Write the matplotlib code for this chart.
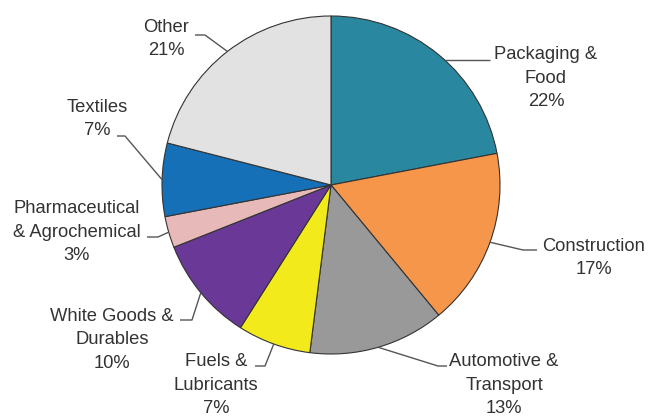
import numpy as np
import matplotlib.pyplot as plt

plt.rcParams['font.family'] = ['Liberation Sans', 'DejaVu Sans']

# data
labels = ["Packaging &\nFood", "Construction", "Automotive &\nTransport",
          "Fuels &\nLubricants", "White Goods &\nDurables",
          "Pharmaceutical\n& Agrochemical", "Textiles", "Other"]
shares = [22, 17, 13, 7, 10, 3, 7, 21]
colors = ["#2a87a0", "#f5964a", "#999999", "#f3ea1c",
          "#6a3896", "#e8b9b9", "#1670b8", "#e2e2e2"]

W, H = 649, 417
cx, cy, R = 331, H - 185, 169

# label layout (pixel coords, y down): text centre, elbow, end of leader
text_pos = [(546, 78), (594, 258), (504, 385), (216, 385),
            (112, 340), (77, 232), (97, 119), (166, 39)]
elbows = [None, (523, 250), (438, 366), (265, 366),
          (192, 320), (158, 237), (125, 136), (205, 35)]
ends = [(490, 60), (537, 250), (447, 366), (255, 366),
        (180, 320), (147, 237), (117, 136), (195, 35)]

fig = plt.figure(figsize=(W / 100, H / 100), dpi=100)
ax = fig.add_axes([0, 0, 1, 1])

wedges, _ = ax.pie(shares, colors=colors, startangle=90, counterclock=False,
                   center=(cx, cy), radius=R,
                   wedgeprops=dict(edgecolor="#333333", linewidth=0.8))

for w, lab, s, tp, el, en in zip(wedges, labels, shares, text_pos, elbows, ends):
    ex, ey = en[0], H - en[1]
    if el is None:
        # horizontal leader: start where that row meets the rim
        ay = ey
        ax_x = cx + np.sqrt(R ** 2 - (ay - cy) ** 2)
        xs, ys = [ax_x, ex], [ay, ey]
    else:
        mid = np.deg2rad((w.theta1 + w.theta2) / 2)
        xs = [cx + R * np.cos(mid), el[0], ex]
        ys = [cy + R * np.sin(mid), H - el[1], ey]
    ax.plot(xs, ys, color="#555555", lw=1.0, solid_capstyle="butt")
    ax.text(tp[0], H - tp[1], f"{lab}\n{s}%", ha="center", va="center",
            multialignment="center", fontsize=13.2, color="#333333",
            linespacing=1.47)

ax.set_xlim(0, W)
ax.set_ylim(0, H)
ax.set_aspect("equal")
ax.axis("off")

fig.savefig("out.png", dpi=100)
